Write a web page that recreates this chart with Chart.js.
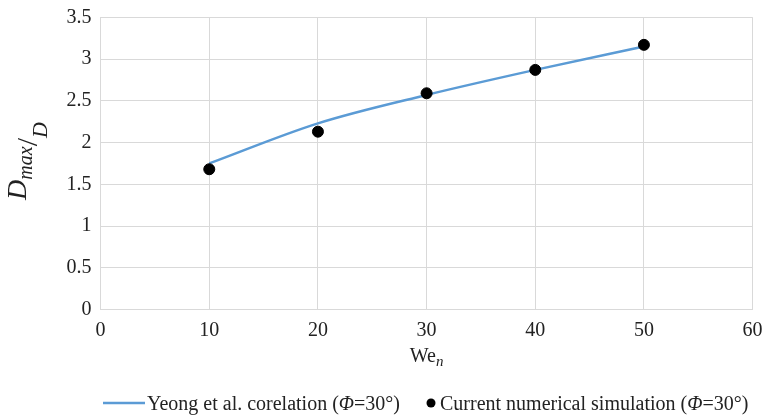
<!DOCTYPE html>
<html>
<head>
<meta charset="utf-8">
<script src="https://cdn.jsdelivr.net/npm/chart.js@4"></script>
<style>
  body { margin:0; background:#fff; }
  #wrap { width:765px; height:420px; }
</style>
</head>
<body>
<div id="wrap"><canvas id="chart" width="765" height="420"></canvas></div>
<script>
// data -----------------------------------------------------------
const weCorr   = [10, 20, 30, 40, 50];
const dCorr    = [1.75, 2.23, 2.57, 2.87, 3.15];   // Yeong et al. corelation
const weSim    = [10, 20, 30, 40, 50];
const dSim     = [1.68, 2.13, 2.59, 2.87, 3.17];   // current numerical simulation
const xTicks   = [0, 10, 20, 30, 40, 50, 60];
const yTicks   = [0, 0.5, 1, 1.5, 2, 2.5, 3, 3.5];
const legendTx = ["Yeong et al. corelation", "Current numerical simulation"];

const SERIF = '"Liberation Serif", "Times New Roman", serif';
const lineBlue = "#5b9bd5";
const gridGrey = "#d9d9d9";

// draw a row of text pieces with their own fonts / baseline shifts
function drawPieces(ctx, pieces, x, y) {
  for (const p of pieces) {
    ctx.font = p.f;
    ctx.fillText(p.t, x, y + (p.dy || 0));
    x += ctx.measureText(p.t).width;
  }
  return x;
}
function piecesWidth(ctx, pieces) {
  let w = 0;
  for (const p of pieces) { ctx.font = p.f; w += ctx.measureText(p.t).width; }
  return w;
}

// axis titles + legend -------------------------------------------
const extras = {
  id: "extras",
  afterDraw(chart) {
    const ctx = chart.ctx;
    ctx.save();
    ctx.fillStyle = "#222";
    ctx.textBaseline = "alphabetic";

    // y title: D_max / D (skewed fraction)
    const yt = [
      { t: "D",   f: `italic 28px ${SERIF}`, dy: 0 },
      { t: "max", f: `italic 20px ${SERIF}`, dy: 6 },
      { t: "/",   f: `30px ${SERIF}`,        dy: 11 },
      { t: "D",   f: `italic 22px ${SERIF}`, dy: 21 }
    ];
    ctx.save();
    ctx.translate(26, 161);
    ctx.rotate(-Math.PI / 2);
    drawPieces(ctx, yt, -piecesWidth(ctx, yt) / 2, 0);
    ctx.restore();

    // x title: We_n
    const xt = [
      { t: "We", f: `20px ${SERIF}`, dy: 0 },
      { t: "n",  f: `italic 15px ${SERIF}`, dy: 4 }
    ];
    const a = chart.chartArea;
    drawPieces(ctx, xt, (a.left + a.right) / 2 - piecesWidth(ctx, xt) / 2, 362);

    // legend
    const ly = 410;
    const base = `20px ${SERIF}`, ital = `italic 20px ${SERIF}`;
    ctx.strokeStyle = lineBlue;
    ctx.lineWidth = 2.5;
    ctx.beginPath();
    ctx.moveTo(103, ly - 7);
    ctx.lineTo(145, ly - 7);
    ctx.stroke();
    drawPieces(ctx, [
      { t: legendTx[0] + " (", f: base },
      { t: "\u03A6", f: ital },
      { t: "=30\u00B0)", f: base }
    ], 147, ly);

    ctx.fillStyle = "#000";
    ctx.beginPath();
    ctx.arc(431, ly - 7, 4.5, 0, Math.PI * 2);
    ctx.fill();
    ctx.fillStyle = "#222";
    drawPieces(ctx, [
      { t: legendTx[1] + " (", f: base },
      { t: "\u03A6", f: ital },
      { t: "=30\u00B0)", f: base }
    ], 440, ly);
    ctx.restore();
  }
};

// chart ----------------------------------------------------------
new Chart(document.getElementById("chart"), {
  type: "scatter",
  data: {
    datasets: [
      {
        type: "line",
        label: legendTx[0],
        data: weCorr.map((x, i) => ({ x, y: dCorr[i] })),
        borderColor: lineBlue,
        borderWidth: 2.5,
        pointRadius: 0,
        cubicInterpolationMode: "monotone",
        fill: false,
        order: 2
      },
      {
        label: legendTx[1],
        data: weSim.map((x, i) => ({ x, y: dSim[i] })),
        backgroundColor: "#000",
        borderColor: "#000",
        pointRadius: 5.5,
        order: 1
      }
    ]
  },
  options: {
    responsive: false,
    animation: false,
    layout: { autoPadding: false, padding: { left: 0, top: 17.3, right: 12.4, bottom: 0 } },
    plugins: { legend: { display: false }, tooltip: { enabled: false } },
    scales: {
      x: {
        type: "linear",
        min: 0, max: 60,
        afterFit: s => { s.height = 110.5; s.paddingLeft = 0; s.paddingRight = 0; },
        afterBuildTicks: s => { s.ticks = xTicks.map(v => ({ value: v })); },
        grid: { color: gridGrey, lineWidth: 1, drawTicks: false },
        border: { color: gridGrey },
        ticks: { color: "#222", padding: 9, font: { family: SERIF, size: 20 },
                 callback: v => String(v) }
      },
      y: {
        min: 0, max: 3.5,
        afterFit: s => { s.width = 100.6; s.paddingTop = 0; s.paddingBottom = 0; },
        afterBuildTicks: s => { s.ticks = yTicks.map(v => ({ value: v })); },
        grid: { color: gridGrey, lineWidth: 1, drawTicks: false },
        border: { color: gridGrey },
        ticks: { color: "#222", padding: 9, font: { family: SERIF, size: 20 },
                 callback: v => String(v) }
      }
    }
  },
  plugins: [extras]
});
</script>
</body>
</html>
